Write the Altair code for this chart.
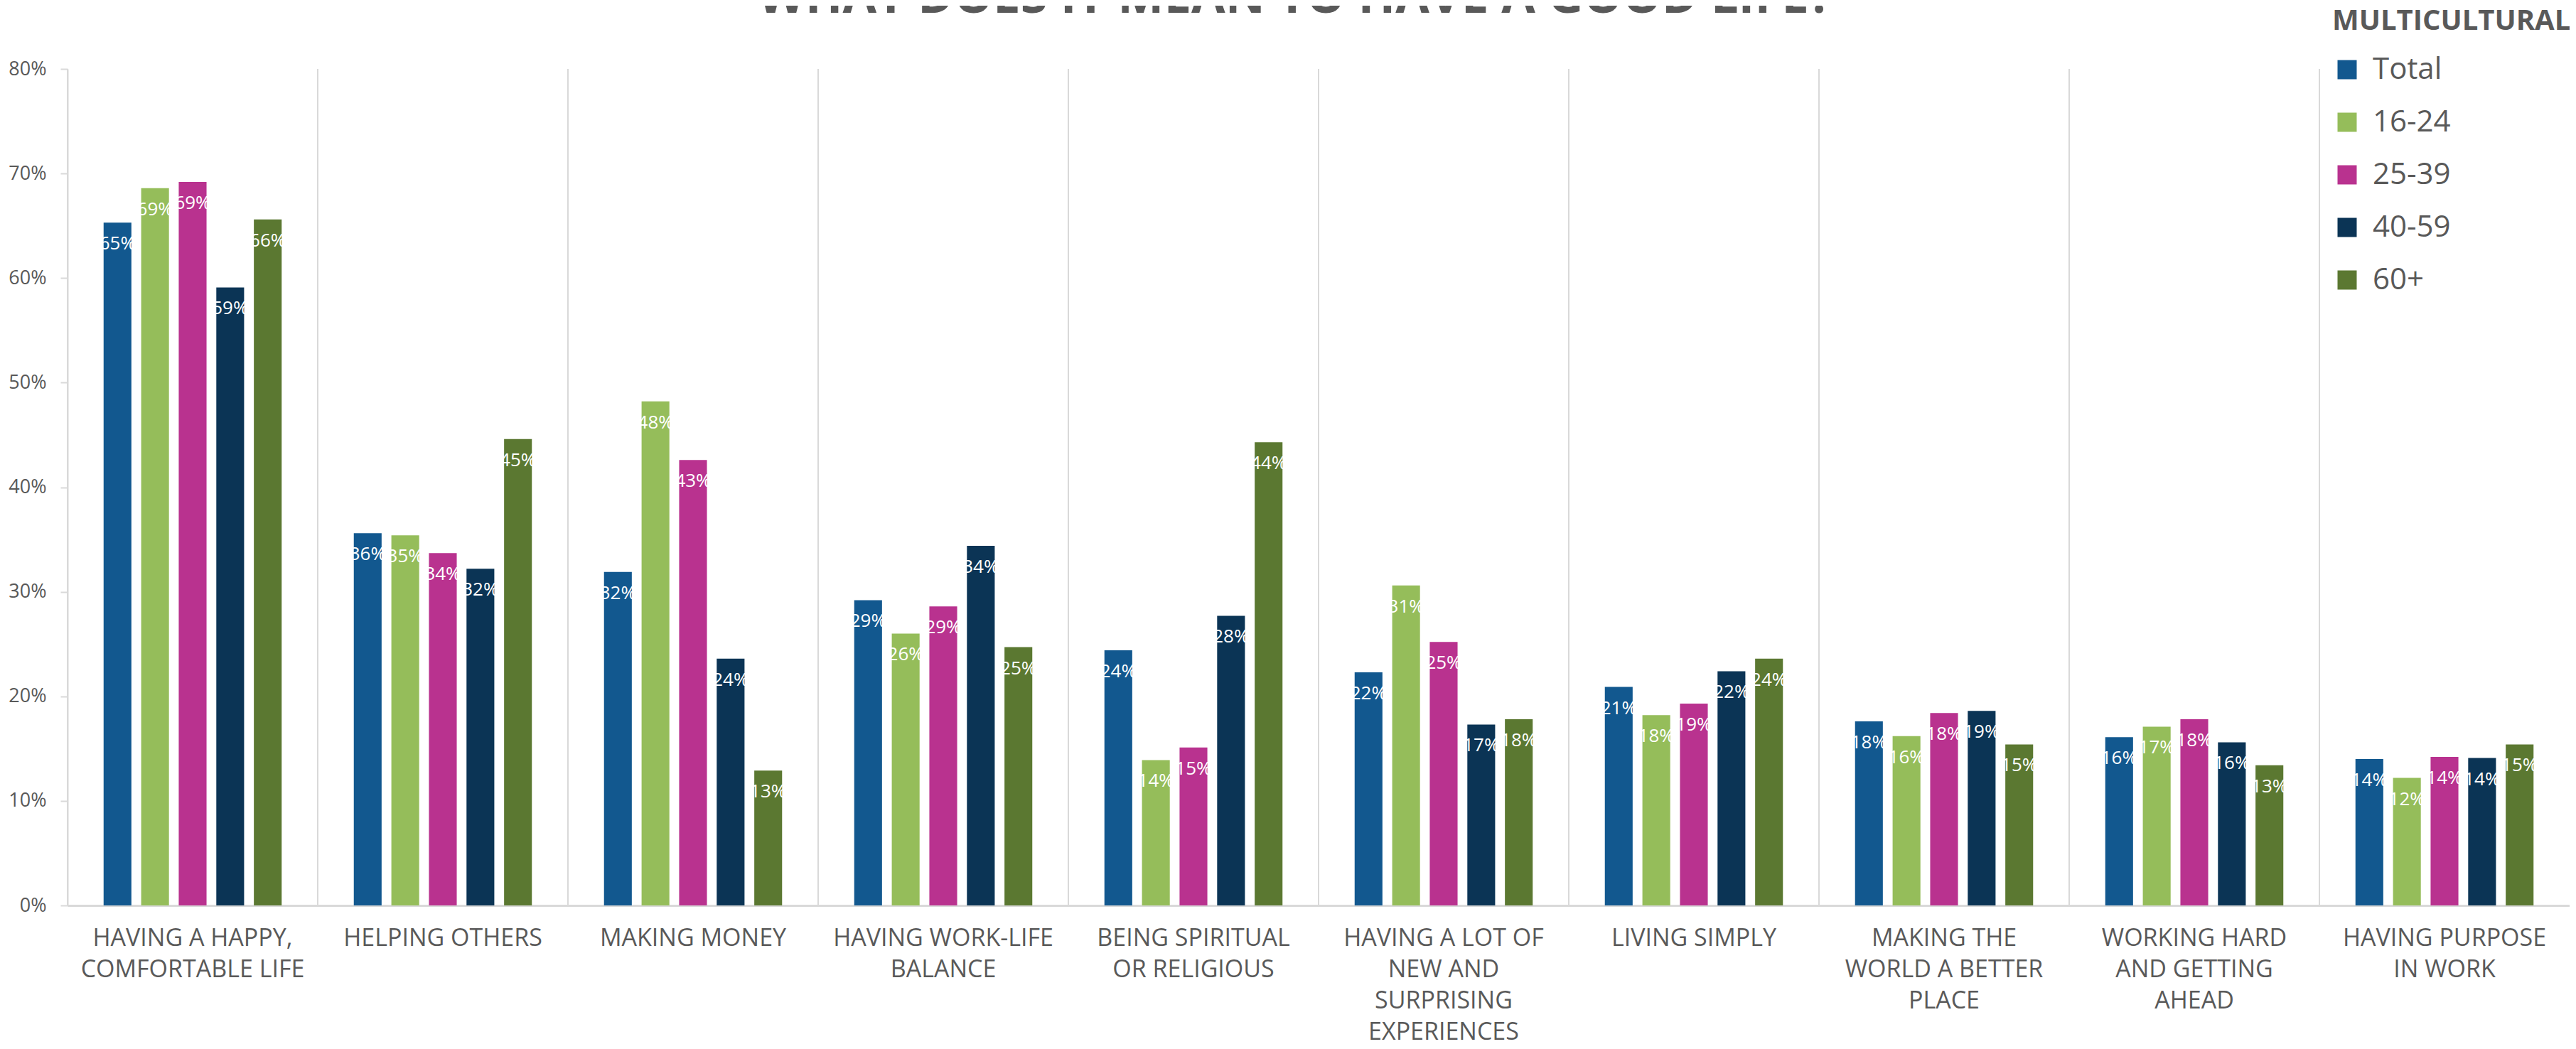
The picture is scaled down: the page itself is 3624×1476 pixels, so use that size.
import altair as alt
import pandas as pd

# ---------------- data ----------------
categories = [
    "HAVING A HAPPY,|COMFORTABLE LIFE",
    "HELPING OTHERS",
    "MAKING MONEY",
    "HAVING WORK-LIFE|BALANCE",
    "BEING SPIRITUAL|OR RELIGIOUS",
    "HAVING A LOT OF|NEW AND|SURPRISING|EXPERIENCES",
    "LIVING SIMPLY",
    "MAKING THE|WORLD A BETTER|PLACE",
    "WORKING HARD|AND GETTING|AHEAD",
    "HAVING PURPOSE|IN WORK",
]
groups = ["Total", "16-24", "25-39", "40-59", "60+"]
colors = ["#12588F", "#95BD5A", "#B9328F", "#0B3455", "#5B7831"]

total = [65.3, 35.6, 31.9, 29.2, 24.4, 22.3, 20.9, 17.6, 16.1, 14.0]
age_16_24 = [68.6, 35.4, 48.2, 26.0, 13.9, 30.6, 18.2, 16.2, 17.1, 12.2]
age_25_39 = [69.2, 33.7, 42.6, 28.6, 15.1, 25.2, 19.3, 18.4, 17.8, 14.2]
age_40_59 = [59.1, 32.2, 23.6, 34.4, 27.7, 17.3, 22.4, 18.6, 15.6, 14.1]
age_60_plus = [65.6, 44.6, 12.9, 24.7, 44.3, 17.8, 23.6, 15.4, 13.4, 15.4]

y_ticks = [0, 10, 20, 30, 40, 50, 60, 70, 80]
chart_title = "WHAT DOES IT MEAN TO HAVE A GOOD LIFE?"
legend_title = "MULTICULTURAL"

series = [total, age_16_24, age_25_39, age_40_59, age_60_plus]
rows = []
for g, vals in zip(groups, series):
    for c, v in zip(categories, vals):
        rows.append({"category": c, "group": g, "value": v})
df = pd.DataFrame(rows)
cat_df = pd.DataFrame({"category": categories})
title_df = pd.DataFrame({"t": [chart_title]})

# ---------------- layout ----------------
W, H = 3520, 1177
GRAY = "#595959"
LINE = "#d9d9d9"
FONT = "Open Sans"

x_axis = alt.Axis(
    title=None,
    labelExpr="split(datum.label, '|')",
    labelAngle=0,
    labelFontSize=34,
    labelFont=FONT,
    labelColor=GRAY,
    labelLineHeight=44,
    labelPadding=29,
    labelBaseline="top",
    labelLimit=400,
    ticks=False,
    grid=False,
    domainColor=LINE,
    domainWidth=3,
)
x_scale = alt.Scale(paddingInner=0, paddingOuter=0)

y_enc = alt.Y(
    "value:Q",
    scale=alt.Scale(domain=[0, 80], nice=False, zero=True),
    axis=alt.Axis(
        title=None,
        values=y_ticks,
        labelExpr="datum.value + '%'",
        labelFontSize=27,
        labelFont=FONT,
        labelColor=GRAY,
        labelPadding=20,
        tickColor=LINE,
        tickSize=10,
        tickWidth=2,
        domainColor=LINE,
        domainWidth=2,
        grid=False,
    ),
)

xo = alt.XOffset(
    "group:N", sort=groups, scale=alt.Scale(paddingInner=0.26, paddingOuter=0.96)
)

color = alt.Color(
    "group:N",
    sort=groups,
    scale=alt.Scale(domain=groups, range=colors),
    legend=alt.Legend(
        orient="none",
        legendX=3186,
        legendY=-87,
        title=legend_title,
        titleFontSize=40,
        titleFontWeight="bold",
        titleFont=FONT,
        titleColor=GRAY,
        titleAnchor="start",
        titlePadding=27,
        titleLimit=600,
        labelFontSize=42,
        labelFont=FONT,
        labelColor=GRAY,
        labelOffset=15,
        symbolType="square",
        symbolSize=729,
        symbolStrokeWidth=0,
        symbolOpacity=1,
        rowPadding=32,
        padding=0,
        offset=0,
    ),
)

grid_rules = (
    alt.Chart(cat_df)
    .mark_rule(color=LINE, strokeWidth=2)
    .encode(
        x=alt.X("category:N", sort=categories, bandPosition=0, scale=x_scale, axis=x_axis),
        y=alt.value(0),
        y2=alt.value(H),
    )
)

base = alt.Chart(df)
bars = base.mark_bar().encode(
    x=alt.X("category:N", sort=categories, scale=x_scale, axis=x_axis),
    xOffset=xo,
    y=y_enc,
    color=color,
)

labels = (
    base.transform_calculate(label="format(datum.value, '.0f') + '%'")
    .mark_text(color="white", fontSize=26, font=FONT, baseline="middle", dy=30)
    .encode(
        x=alt.X("category:N", sort=categories, scale=x_scale, axis=x_axis),
        xOffset=xo,
        y=y_enc,
        text="label:N",
    )
)

title_mark = (
    alt.Chart(title_df)
    .mark_text(
        fontSize=69,
        fontWeight="bold",
        font=FONT,
        color=GRAY,
        baseline="alphabetic",
        align="center",
    )
    .encode(x=alt.value(1727), y=alt.value(-79), text="t:N")
)

chart = (
    alt.layer(grid_rules, bars, labels, title_mark)
    .properties(
        width=W,
        height=H,
        padding={"left": 87, "top": 89, "right": 0, "bottom": 194},
        autosize=alt.AutoSizeParams(type="none"),
        background="white",
    )
    .configure_view(stroke=None)
)

chart.save("out.html", embed_options={"renderer": "svg", "actions": False})
